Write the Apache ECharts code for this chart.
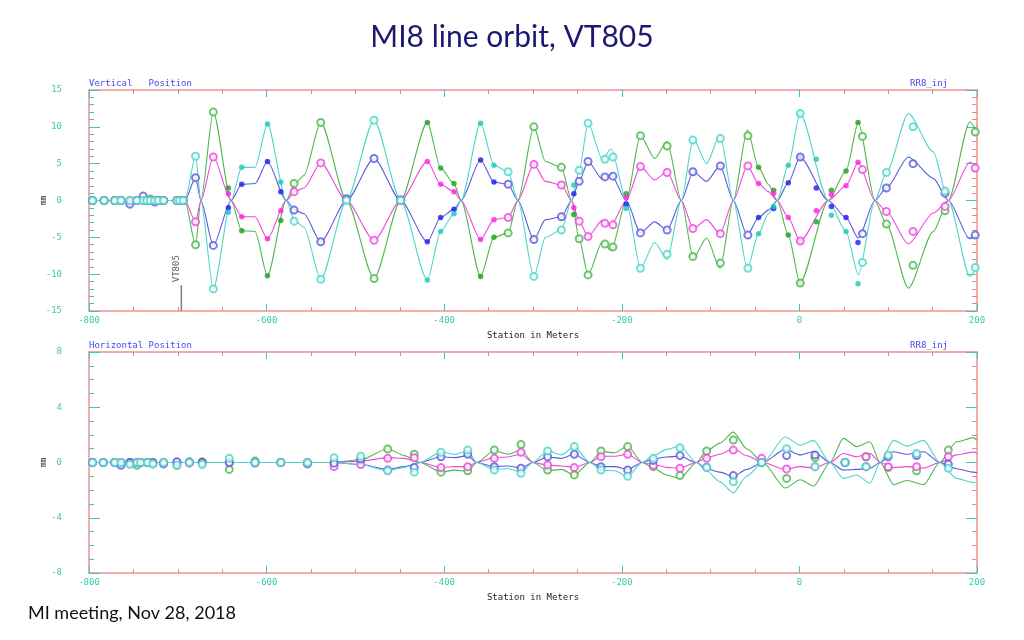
<!DOCTYPE html>
<html>
<head>
<meta charset="utf-8">
<script src="https://cdn.jsdelivr.net/npm/echarts@6/dist/echarts.min.js"></script>
<style>html,body{margin:0;padding:0;background:#fff;}#c{width:1024px;height:640px;}</style>
</head>
<body>
<div id="c"></div>
<script>
// ---------- Vertical panel: model orbit lines ----------
const vLineX = [-800,-692,-680,-674,-660,-640,-628,-613,-599,-578,-568,-558,-539,-510,-479,-449,-419,-404,-389,-381,-359,-344,-328,-317,-299,-286,-268,-256.5,-248,-238,-222,-212,-195,-179,-163,-149,-133,-119.5,-104.5,-89.4,-74.4,-58.6,-46,-35,-25,-12.5,0.7,32.6,52.5,66.4,85,98,122.7,150.8,167.7,192,200];
const vGreenLine = [0,0,-6.0,0,12.0,0,-4.1,-4.2,-10.2,0, 2.3,3.4,10.6,0,-10.6,0,10.6,4.4,2.3,0, -10.3,-5.0,-4.4,0,10.0,5.3,4.5,0,-5.2,-10.1, -5.6,-6.8,0,8.8,5.7,8.0,0,-7.8,-5.1,-9.2, 0,9.6,4.5,2.2,0,-4.7,-11.2,0,4.0,10.6, 0,-3.2,-11.9,-4.2,0,10.7,9.3];
const vMagLine = [0,0,-2.9,0,5.9,0,-2.2,-2.2,-5.2,0, 1.2,1.7,5.1,0,-5.4,0,5.3,2.2,1.2,0, -5.3,-2.6,-2.3,0,4.9,2.6,2.1,0,-2.8,-4.9, -2.7,-3.3,0,4.6,2.8,3.9,0,-3.8,-2.6,-4.5, 0,4.7,2.3,1.2,0,-2.3,-5.5,0,2.0,5.2, 0,-1.5,-5.9,-1.7,0,5.2,4.5];
const vBlueLine = [0,0,3.1,0,-6.1,0,2.2,2.3,5.3,0, -1.3,-1.8,-5.6,0,5.7,0,-5.6,-2.3,-1.2,0, 5.5,2.5,2.2,0,-5.3,-2.6,-2.2,0,2.6,5.3, 2.9,3.5,0,-4.4,-2.9,-4.0,0,3.9,2.6,4.7, 0,-4.7,-2.3,-1.3,0,2.4,5.9,0,-2.3,-5.1, 0,1.7,5.9,3.0,0,-5.2,-4.7];
const vCyanLine = [0,0,6.0,0,-12.0,0,4.5,4.5,10.4,0, -2.8,-3.6,-10.7,0,10.9,0,-10.8,-4.2,-1.8,0, 10.5,4.8,3.9,0,-10.3,-5.0,-4.0,0,4.1,10.5, 5.6,7.0,0,-9.2,-5.7,-8.0,0,8.4,5.0,8.9, 0,-9.2,-4.5,-1.8,0,4.8,11.8,0,-4.2,-10.1, 0,3.8,11.8,6.6,0,-10.3,-9.0];

// ---------- Vertical panel: measured BPM points ----------
const vMarkX = [-796,-783,-771,-764,-754,-746,-739,-735,-731,-726,-722,-716,-701,-698,-694,
  -680,-660,-643,-628,-599,-584,-569,-539,-510,-479,-449,-419,-404,-389,-359,-344,-328,-299,-268,-254,
  -248,-238,-219,-210,-195,-179,-149,-120,-89,-58,-46,-29,-12.5,1,19,36,52.5,66,71,98,128,164,198];
// o = open circle, f = filled dot, b = both
const vMarkType = ['o','o','o','o','o','o','o','o','o','o','o','o','o','o','o',
  'o','o','f','f','f','f','o','o','o','o','o','f','f','f','f','f','o','o','o','f',
  'o','o','o','o','f','o','o','o','o','o','f','f','f','b','f','f','f','f','o','o','o','o','o'];
const vGreenPts = [0,0,0,0,0,0,0,0,0.2,0,0,0,0,0,0,
  -6.0,12.0,1.7,-4.1,-10.2,-2.7,2.3,10.6,0.2,-10.6, 0,10.6,4.4,2.3,-10.3,-5.0,-4.4,10.0,4.5,-1.9,
  -5.2,-10.1,-5.9,-6.3,0.9,8.8,7.4,-7.6,-8.5,8.8, 4.5,1.4,-4.7,-11.2,-2.9,1.4,4.0,10.6,8.7,-3.2, -8.8,-1.4,9.3];
const vMagPts = [0,0,0,0,-0.2,0,0,0,0,0,0,0,0,0,0,
  -2.9,5.9,0.9,-2.2,-5.2,-1.4,1.2,5.1,0.1,-5.4, 0,5.3,2.2,1.2,-5.3,-2.6,-2.3,4.9,2.1,-1.0,
  -2.8,-4.9,-3.1,-3.3,0.4,4.6,3.8,-3.8,-4.5,4.7, 2.3,1.0,-2.3,-5.5,-1.4,0.8,2.0,5.2,4.2,-1.5, -4.2,-0.8,4.4];
const vBluePts = [0,0,0,0,-0.5,0,0.6,0,0,-0.2,0,0,0,0,0,
  3.1,-6.1,-1.0,2.2,5.3,1.2,-1.3,-5.6,0.2,5.7, 0.1,-5.6,-2.3,-1.2,5.5,2.5,2.2,-5.3,-2.2,0.9,
  2.6,5.3,3.2,3.3,-0.5,-4.4,-4.0,3.9,4.7,-4.7, -2.3,-1.1,2.4,5.9,1.7,-0.8,-2.3,-5.7,-4.5,1.7, 5.0,1.0,-4.7];
const vCyanPts = [0,0,0,0,0,0,0,0,0,0,0,0,0,0,0,
  6.0,-12.0,-1.6,4.5,10.4,2.5,-2.8,-10.7,0,10.9, 0,-10.8,-4.2,-1.8,10.5,4.8,3.9,-10.3,-4.0,2.1,
  4.1,10.5,5.6,5.9,-1.1,-9.2,-7.3,8.2,8.4,-9.2, -4.5,-0.8,4.8,11.8,5.6,-2.0,-4.2,-11.3,-8.4,3.8, 10.0,1.3,-9.1];

// ---------- Horizontal panel: model orbit lines ----------
const hLineX = [-800,-525,-494,-463.6,-445,-427,-403.6,-388,-373.5,-363.5,-343.6,-328,-313.5,-300,-283.5,-268,-253.5,-236,-223,-208,-193.4,-177,-164.5,-149.5,-134.5,-116,-104.4,-89.4,-74.4,-59.4,-41,-16,1,16,34.5,49.5,64.5,79.5,91,106,121,140,158,177,196,200];
const hGreenLine = [0,0,0.2,1.0,0.5,0,-0.7,-0.55,-0.65,0,0.85,0.6,0.9,0,-0.6,-0.5,-0.9,0,0.8,0.7,1.2,0,-0.4,-0.9,-1.15,0,0.85,1.4,2.2,1.0,0,-1.85,-1.25,-1.7,0,1.75,1.15,1.5,0,-1.6,-1.3,-1.6,0,1.5,1.8,1.6];
const hMagLine = [0,0,0.1,0.35,0.3,0,-0.35,-0.3,-0.3,0,0.35,0.4,0.6,0,-0.2,-0.25,-0.35,0,0.45,0.45,0.6,0,-0.15,-0.35,-0.4,0,0.35,0.6,1.0,0.5,0,-0.5,-0.3,-0.4,0,0.65,0.42,0.66,0,-0.37,-0.3,-0.4,0,0.55,0.75,0.7];
const hBlueLine = [0,0,-0.15,-0.5,-0.3,0,0.42,0.35,0.5,0,-0.3,-0.25,-0.4,0,0.4,0.3,0.6,0,-0.3,-0.3,-0.5,0,0.25,0.4,0.45,0,-0.45,-0.7,-1.0,-0.5,0,0.95,0.55,0.8,0,-0.55,-0.5,-0.42,0,0.78,0.6,0.78,0,-0.45,-0.7,-0.74];
const hCyanLine = [0,0,-0.15,-0.6,-0.35,0,0.75,0.6,0.85,0,-0.5,-0.45,-0.7,0,0.85,0.55,1.15,0,-0.55,-0.6,-1.0,0,0.5,0.95,1.2,0,-0.6,-1.4,-2.2,-1.0,0,1.85,1.25,1.6,0,-1.15,-0.9,-1.5,0,1.6,1.2,1.6,0,-1.15,-1.45,-1.4];

// ---------- Horizontal panel: measured BPM points ----------
const hMarkX = [-796,-784,-771,-764,-754,-746,-742,-734,-728,-716,-701,-687,-672.5,-642,-613,-584,-554,-524,-494,
  -463.6,-433.7,-403.6,-373.5,-343.6,-313.5,-283.5,-253.5,-223.4,-193.4,-164.5,-134.5,-104.4,-74.4,-42.5,-14.4,17.6,51.4,75,100,132,167.7];
const hGreenPts = [0,0,0,0,0,-0.2,0,0,-0.1,0,-0.2,0,0.05,-0.5,0.1,0,0,0,0.1,
  0.98,0.6,-0.7,-0.6,0.9,1.3,-0.54,-0.9,0.83,1.15,-0.3,-0.95,0.83,1.63,0,-1.15,0.35,0,0.42,-0.37,-0.6,0.9];
const hMagPts = [0,0,0,0,0,0,0,0,0,0,0,-0.05,0,0,-0.05,0,0,-0.3,-0.15,
  0.3,0.35,-0.37,-0.3,0.3,0.74,-0.18,-0.37,0.42,0.6,-0.2,-0.42,0.3,0.9,0.3,-0.47,-0.3,0,0.42,-0.3,-0.3,0.42];
const hBluePts = [0,0,0,-0.2,0,0,0,0,0,-0.1,0.05,0.05,0,0,0,0,-0.1,-0.05,0.25,
  -0.55,-0.37,0.42,0.6,-0.3,-0.42,0.42,0.6,-0.3,-0.54,0.15,0.5,-0.35,-0.95,0,0.5,0.54,0,-0.3,0.42,0.5,-0.13];
const hCyanPts = [0,0,0,0,-0.15,0,0,0,-0.1,0,-0.2,0,-0.15,0.3,0,0,0,0.35,0.45,
  -0.6,-0.7,0.74,0.9,-0.55,-0.78,0.83,1.15,-0.54,-1.0,0.3,1.07,-0.37,-1.4,0,1.0,-0.3,0,-0.3,0.54,0.66,-0.42];

// VT805 location
const vt805X = -696;
const vt805Span = [-15, -11.5];

// texts
const chartTitle = 'MI8 line orbit, VT805';
const footer = 'MI meeting, Nov 28, 2018';
const xName = 'Station in Meters';
const yName = 'mm';

// ---------- build ----------
const COLORS = {
  green:  {line:'#4cb84c', dot:'#1f9f1f'},
  cyan:   {line:'#4cd6c8', dot:'#1cc8b4'},
  mag:    {line:'#ee48dc', dot:'#ff20e0'},
  blue:   {line:'#5a5ae0', dot:'#1a1af0'}
};
const zip = (xs, ys) => xs.map((x, i) => [x, ys[i]]);
const pick = (xs, ys, types, want) => {
  const out = [];
  xs.forEach((x, i) => {
    const t = types ? types[i] : 'o';
    if (t === want || t === 'b') out.push([x, ys[i]]);
  });
  return out;
};
const MONO = 'DejaVu Sans Mono';
const TEAL = '#3cc8b4';
const FRAME = '#f29090';

function lineSeries(ax, data, col) {
  return {type:'line', xAxisIndex:ax, yAxisIndex:ax, data, smooth:0.25, smoothMonotone:'x', showSymbol:false, silent:true,
    lineStyle:{color:col.line, width:1.1}, z:2};
}
function dotSeries(ax, data, col) {
  return {type:'scatter', xAxisIndex:ax, yAxisIndex:ax, data, symbol:'circle', symbolSize:5.5, silent:true,
    itemStyle:{color:col.dot}, z:4};
}
function ringSeries(ax, data, col) {
  return {type:'scatter', xAxisIndex:ax, yAxisIndex:ax, data, symbol:'emptyCircle', symbolSize:7, silent:true,
    itemStyle:{color:col.line, borderColor:col.line, borderWidth:1.2}, z:5};
}

const series = [];
const vSets = [[vGreenLine, vGreenPts, COLORS.green],[vMagLine, vMagPts, COLORS.mag],[vBlueLine, vBluePts, COLORS.blue],[vCyanLine, vCyanPts, COLORS.cyan]];
vSets.forEach(([ln, pts, col]) => {
  series.push(lineSeries(0, zip(vLineX, ln), col));
  series.push(dotSeries(0, pick(vMarkX, pts, vMarkType, 'f'), col));
  series.push(ringSeries(0, pick(vMarkX, pts, vMarkType, 'o'), col));
});
const hSets = [[hGreenLine, hGreenPts, COLORS.green],[hMagLine, hMagPts, COLORS.mag],[hBlueLine, hBluePts, COLORS.blue],[hCyanLine, hCyanPts, COLORS.cyan]];
hSets.forEach(([ln, pts, col]) => {
  series.push(lineSeries(2, zip(hLineX, ln), col));
  series.push(ringSeries(2, pick(hMarkX, pts, null, 'o'), col));
});
// VT805 marker
series.push({type:'line', xAxisIndex:0, yAxisIndex:0, data: vt805Span.map(y => [vt805X, y]), showSymbol:false, silent:true,
  lineStyle:{color:'#808080', width:1.5}, z:3});
series.push({type:'scatter', xAxisIndex:0, yAxisIndex:0, data:[[vt805X, vt805Span[1]]], symbolSize:0, silent:true,
  label:{show:true, formatter:'VT805', position:'top', distance:3, rotate:90, align:'left', verticalAlign:'bottom',
    fontFamily:MONO, fontSize:9, color:'#333'}, z:3});

function xAxes(gi) {
  return [
    {gridIndex:gi, type:'value', min:-800, max:200, interval:200, position:'bottom',
      axisLine:{show:true, onZero:false, lineStyle:{color:FRAME, width:1.5}},
      axisTick:{show:true, inside:true, length:7, lineStyle:{color:TEAL}},
      minorTick:{show:true, splitNumber:4, length:4, lineStyle:{color:'#e08a8a'}},
      splitLine:{show:false},
      axisLabel:{color:TEAL, fontFamily:MONO, fontSize:9, margin:5},
      name:xName, nameLocation:'middle', nameGap:20, nameMoveOverlap:false,
      nameTextStyle:{color:'#222', fontFamily:MONO, fontSize:9}},
    {gridIndex:gi, type:'value', min:-800, max:200, interval:200, position:'top',
      axisLine:{show:true, onZero:false, lineStyle:{color:FRAME, width:1.5}},
      axisTick:{show:true, inside:true, length:7, lineStyle:{color:TEAL}},
      minorTick:{show:true, splitNumber:4, length:4, lineStyle:{color:'#a0a0a0'}},
      splitLine:{show:false}, axisLabel:{show:false}}
  ];
}
function yAxes(gi, lim, step, minor) {
  return [
    {gridIndex:gi, type:'value', min:-lim, max:lim, interval:step, position:'left',
      axisLine:{show:true, onZero:false, lineStyle:{color:FRAME, width:1.5}},
      axisTick:{show:true, inside:true, length:11, lineStyle:{color:TEAL}},
      minorTick:{show:true, splitNumber:minor, length:5, lineStyle:{color:TEAL}},
      splitLine:{show:false},
      axisLabel:{color:TEAL, fontFamily:MONO, fontSize:9, margin:27},
      name:yName, nameLocation:'middle', nameGap:41, nameRotate:90, nameMoveOverlap:false,
      nameTextStyle:{color:'#222', fontFamily:MONO, fontSize:8}},
    {gridIndex:gi, type:'value', min:-lim, max:lim, interval:step, position:'right',
      axisLine:{show:true, onZero:false, lineStyle:{color:FRAME, width:1.5}},
      axisTick:{show:true, inside:true, length:11, lineStyle:{color:TEAL}},
      minorTick:{show:true, splitNumber:minor, length:5, lineStyle:{color:'#e08a8a'}},
      splitLine:{show:false}, axisLabel:{show:false}}
  ];
}

const labelStyle = {fontFamily:MONO, fontSize:9, fill:'#4646f0'};
const option = {
  animation:false,
  backgroundColor:'#ffffff',
  title:{text:chartTitle, left:'center', top:17,
    textStyle:{fontFamily:'Lato', fontSize:30, fontWeight:'normal', color:'#1f1872'}},
  graphic:[
    {type:'text', left:89, top:79, style:Object.assign({text:'Vertical   Position'}, labelStyle)},
    {type:'text', right:76, top:79, style:Object.assign({text:'RR8_inj'}, labelStyle)},
    {type:'text', left:89, top:341, style:Object.assign({text:'Horizontal Position'}, labelStyle)},
    {type:'text', right:76, top:341, style:Object.assign({text:'RR8_inj'}, labelStyle)},
    {type:'text', left:28, top:604, style:{text:footer, fontFamily:'Lato', fontSize:18, fill:'#111'}}
  ],
  grid:[
    {left:89, top:90, width:888, height:221},
    {left:89, top:352, width:888, height:221}
  ],
  xAxis:[...xAxes(0), ...xAxes(1)],
  yAxis:[...yAxes(0, 15, 5, 5), ...yAxes(1, 8, 4, 4)],
  series
};
const chart = echarts.init(document.getElementById('c'), null, {renderer:'canvas'});
chart.setOption(option);
</script>
</body>
</html>
